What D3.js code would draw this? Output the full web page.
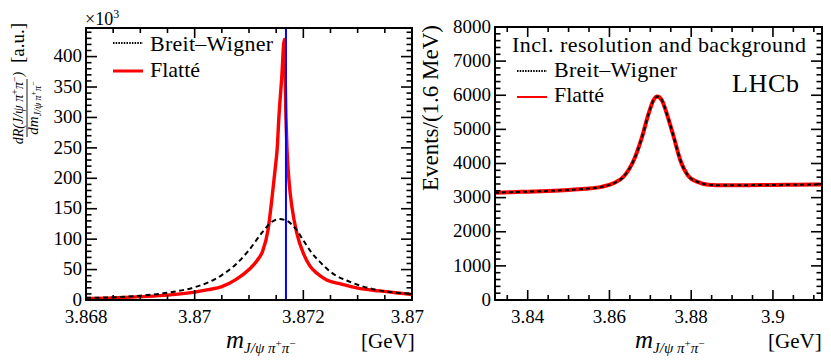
<!DOCTYPE html>
<html lang="en">
<head>
<meta charset="utf-8">
<title>Breit-Wigner vs Flatte</title>
<script src="https://cdn.jsdelivr.net/npm/d3@7"></script>
<style>
  body { margin: 0; background: #fff; }
  svg text { font-family: "Liberation Serif", "Times New Roman", serif; fill: #000; }
</style>
</head>
<body>
<script>
// left panel: lineshapes, in units of 10^3 [a.u.]
const bwLeftMass = [3.868, 3.8685, 3.869, 3.8695, 3.870, 3.87025, 3.8705, 3.87075, 3.871, 3.87125,
  3.8714, 3.87155, 3.8717, 3.87185, 3.872, 3.87215, 3.8723, 3.87255, 3.8728, 3.873, 3.8733, 3.8736, 3.874];
const bwLeftVal = [3.5, 4.5, 7, 12, 21, 29, 41, 58, 82, 112,
  127, 133, 130, 118, 98, 78, 63, 43, 32, 25, 17.5, 13, 10.5];

const flatteLeftMass = [3.868, 3.8685, 3.869, 3.8695, 3.870, 3.87025, 3.8705, 3.87075, 3.871, 3.87115,
  3.87125, 3.87135, 3.87142, 3.87148, 3.87152, 3.87155, 3.8716, 3.87165, 3.87168, 3.8717, 3.87174,
  3.87179, 3.87188, 3.872, 3.87212, 3.87225, 3.87243, 3.8727, 3.873, 3.8734, 3.8737, 3.874];
const flatteLeftVal = [2.5, 3.5, 5.5, 8, 13, 17, 22, 33, 50, 65,
  80, 115, 165, 214, 250, 300, 362, 428, 300, 247, 192,
  153, 110, 77, 56, 44, 33, 26, 19.5, 15, 12, 9];

const thresholdMass = 3.87168;

// right panel: with resolution and background, events / 1.6 MeV
const rightMass = [3.832, 3.836, 3.840, 3.845, 3.850, 3.854, 3.858, 3.861, 3.8635, 3.866, 3.868,
  3.8696, 3.8708, 3.8717, 3.8728, 3.874, 3.8757, 3.8773, 3.8794, 3.8814, 3.8842, 3.888, 3.894, 3.900, 3.906, 3.912];
const bwRightVal = [3140, 3160, 3175, 3195, 3225, 3260, 3315, 3420, 3620, 4110, 4790,
  5470, 5860, 5960, 5860, 5470, 4790, 4110, 3620, 3470, 3380, 3360, 3365, 3372, 3378, 3385];
const flatteRightVal = [3140, 3160, 3175, 3195, 3225, 3260, 3315, 3420, 3620, 4110, 4790,
  5470, 5860, 5960, 5860, 5470, 4790, 4110, 3620, 3470, 3380, 3360, 3365, 3372, 3378, 3385];

const leftXTicks = [3.868, 3.870, 3.872, 3.874];
const rightXTicks = [3.84, 3.86, 3.88, 3.90];

const W = 831, H = 360;
const svg = d3.select("body").append("svg").attr("width", W).attr("height", H);

function zip(xs, ys) { return xs.map((x, i) => [x, ys[i]]); }

function steps(a, b, s) {
  const n = Math.round((b - a) / s);
  return d3.range(n + 1).map(i => +(a + i * s).toFixed(6));
}

function drawFrame(g, x, y, opt) {
  const [x0, x1] = x.range(), [y0, y1] = y.range();
  // inward ticks on all four sides
  const ticks = g.append("g").attr("stroke", "#000").attr("stroke-width", 1.6);
  opt.xMinor.forEach(v => {
    const len = opt.xTicks.some(t => Math.abs(t - v) < 1e-7) ? 10 : 5;
    ticks.append("line").attr("x1", x(v)).attr("x2", x(v)).attr("y1", y0).attr("y2", y0 - len);
    ticks.append("line").attr("x1", x(v)).attr("x2", x(v)).attr("y1", y1).attr("y2", y1 + len);
  });
  opt.yMinor.forEach(v => {
    const len = opt.yTicks.some(t => Math.abs(t - v) < 1e-7) ? 11 : 5.5;
    ticks.append("line").attr("y1", y(v)).attr("y2", y(v)).attr("x1", x0).attr("x2", x0 + len);
    ticks.append("line").attr("y1", y(v)).attr("y2", y(v)).attr("x1", x1).attr("x2", x1 - len);
  });
  g.append("rect").attr("x", x0).attr("y", y1).attr("width", x1 - x0).attr("height", y0 - y1)
    .attr("fill", "none").attr("stroke", "#000").attr("stroke-width", 2);

  g.selectAll(".xl").data(opt.xTicks).enter().append("text")
    .attr("x", d => x(d)).attr("y", y0 + 23).attr("text-anchor", "middle")
    .attr("font-size", 19).text(opt.xFmt);
  g.selectAll(".yl").data(opt.yTicks).enter().append("text")
    .attr("x", x0 - 4).attr("y", d => y(d)).attr("dy", "0.3em").attr("text-anchor", "end")
    .attr("font-size", 19).text(d => d);
}

function massTitle(g, xm, xg, yb) {
  const t = g.append("text").attr("x", xm).attr("y", yb).attr("font-size", 25).attr("font-style", "italic");
  t.append("tspan").text("m");
  t.append("tspan").attr("font-size", 15).attr("dy", 5).text("J/ψ π");
  t.append("tspan").attr("font-size", 11).attr("dy", -6).attr("font-style", "normal").text("+");
  t.append("tspan").attr("font-size", 15).attr("dy", 6).text("π");
  t.append("tspan").attr("font-size", 11).attr("dy", -6).attr("font-style", "normal").text("−");
  g.append("text").attr("x", xg).attr("y", yb).attr("font-size", 21).text("[GeV]");
}

const line = (x, y) => d3.line().x(d => x(d[0])).y(d => y(d[1])).curve(d3.curveMonotoneX);

// ---------- left panel ----------
const gl = svg.append("g");
const xL = d3.scaleLinear().domain([3.868, 3.874]).range([86, 412]);
const yL = d3.scaleLinear().domain([0, 447]).range([300, 28]);

gl.append("path").datum(zip(flatteLeftMass, flatteLeftVal))
  .attr("d", line(xL, yL)).attr("fill", "none").attr("stroke", "#ff0000").attr("stroke-width", 3.4);
gl.append("path").datum(zip(bwLeftMass, bwLeftVal))
  .attr("d", line(xL, yL)).attr("fill", "none").attr("stroke", "#000")
  .attr("stroke-width", 2).attr("stroke-dasharray", "5,3.5");
gl.append("line").attr("x1", xL(thresholdMass)).attr("x2", xL(thresholdMass))
  .attr("y1", yL(0)).attr("y2", yL(447)).attr("stroke", "#0000ff").attr("stroke-width", 2);

drawFrame(gl, xL, yL, {
  xTicks: leftXTicks, xMinor: steps(3.868, 3.874, 0.0005),
  yTicks: d3.range(0, 401, 50), yMinor: d3.range(0, 441, 10),
  xFmt: d3.format(".4~f")
});

const exp = gl.append("text").attr("x", 85).attr("y", 25).attr("font-size", 18);
exp.append("tspan").text("×10");
exp.append("tspan").attr("font-size", 12).attr("dy", -7).text("3");

// legend
gl.append("line").attr("x1", 113).attr("x2", 143).attr("y1", 43).attr("y2", 43)
  .attr("stroke", "#000").attr("stroke-width", 2).attr("stroke-dasharray", "1.5,1.2");
gl.append("text").attr("x", 150).attr("y", 51).attr("font-size", 22).attr("textLength", 123).text("Breit–Wigner");
gl.append("line").attr("x1", 113).attr("x2", 143).attr("y1", 71).attr("y2", 71)
  .attr("stroke", "#ff0000").attr("stroke-width", 3);
gl.append("text").attr("x", 150).attr("y", 77).attr("font-size", 22).text("Flatté");

// y title: dR(J/psi pi pi)/dm  [a.u.]
gl.append("text").attr("transform", "translate(24,23) rotate(-90)")
  .attr("text-anchor", "end").attr("font-size", 19).text("[a.u.]");
const num = gl.append("text").attr("transform", "translate(23,108) rotate(-90)")
  .attr("text-anchor", "middle").attr("font-size", 14).attr("font-style", "italic");
num.append("tspan").text("dR(J/ψ π");
num.append("tspan").attr("font-size", 10).attr("dy", -5).attr("font-style", "normal").text("+");
num.append("tspan").attr("dy", 5).text("π");
num.append("tspan").attr("font-size", 10).attr("dy", -5).attr("font-style", "normal").text("−");
num.append("tspan").attr("dy", 5).text(")");
gl.append("line").attr("x1", 27).attr("x2", 27).attr("y1", 79).attr("y2", 137)
  .attr("stroke", "#000").attr("stroke-width", 0.9);
const den = gl.append("text").attr("transform", "translate(38,108) rotate(-90)")
  .attr("text-anchor", "middle").attr("font-size", 15).attr("font-style", "italic");
den.append("tspan").text("dm");
den.append("tspan").attr("font-size", 10).attr("dy", 3).text("J/ψ π");
den.append("tspan").attr("font-size", 8).attr("dy", -5).attr("font-style", "normal").text("+");
den.append("tspan").attr("font-size", 10).attr("dy", 5).text("π");
den.append("tspan").attr("font-size", 8).attr("dy", -5).attr("font-style", "normal").text("−");

massTitle(gl, 226, 361, 348);

// ---------- right panel ----------
svg.append("rect").attr("x", 424).attr("y", 0).attr("width", W - 424).attr("height", H).attr("fill", "#fff");
const gr = svg.append("g");
const xR = d3.scaleLinear().domain([3.832, 3.912]).range([495, 822]);
const yR = d3.scaleLinear().domain([0, 8000]).range([300, 27]);

gr.append("path").datum(zip(rightMass, flatteRightVal))
  .attr("d", line(xR, yR)).attr("fill", "none").attr("stroke", "#ff0000").attr("stroke-width", 4);
gr.append("path").datum(zip(rightMass, bwRightVal))
  .attr("d", line(xR, yR)).attr("fill", "none").attr("stroke", "#000")
  .attr("stroke-width", 2).attr("stroke-dasharray", "4,3");

drawFrame(gr, xR, yR, {
  xTicks: rightXTicks, xMinor: steps(3.835, 3.91, 0.005),
  yTicks: d3.range(0, 8001, 1000), yMinor: d3.range(0, 8001, 200),
  xFmt: d3.format(".2~f")
});

gr.append("text").attr("x", 512).attr("y", 52).attr("font-size", 22).attr("textLength", 294)
  .text("Incl. resolution and background");
gr.append("line").attr("x1", 517).attr("x2", 547).attr("y1", 71).attr("y2", 71)
  .attr("stroke", "#000").attr("stroke-width", 2).attr("stroke-dasharray", "1.5,1.2");
gr.append("text").attr("x", 554).attr("y", 77).attr("font-size", 22).attr("textLength", 123).text("Breit–Wigner");
gr.append("line").attr("x1", 517).attr("x2", 547).attr("y1", 97).attr("y2", 97)
  .attr("stroke", "#ff0000").attr("stroke-width", 2);
gr.append("text").attr("x", 554).attr("y", 102).attr("font-size", 22).text("Flatté");
gr.append("text").attr("x", 732).attr("y", 92).attr("font-size", 26).attr("textLength", 67).text("LHCb");

gr.append("text").attr("transform", "translate(438,25) rotate(-90)")
  .attr("text-anchor", "end").attr("font-size", 23).text("Events/(1.6 MeV)");

massTitle(gr, 635, 768, 348);
</script>
</body>
</html>
